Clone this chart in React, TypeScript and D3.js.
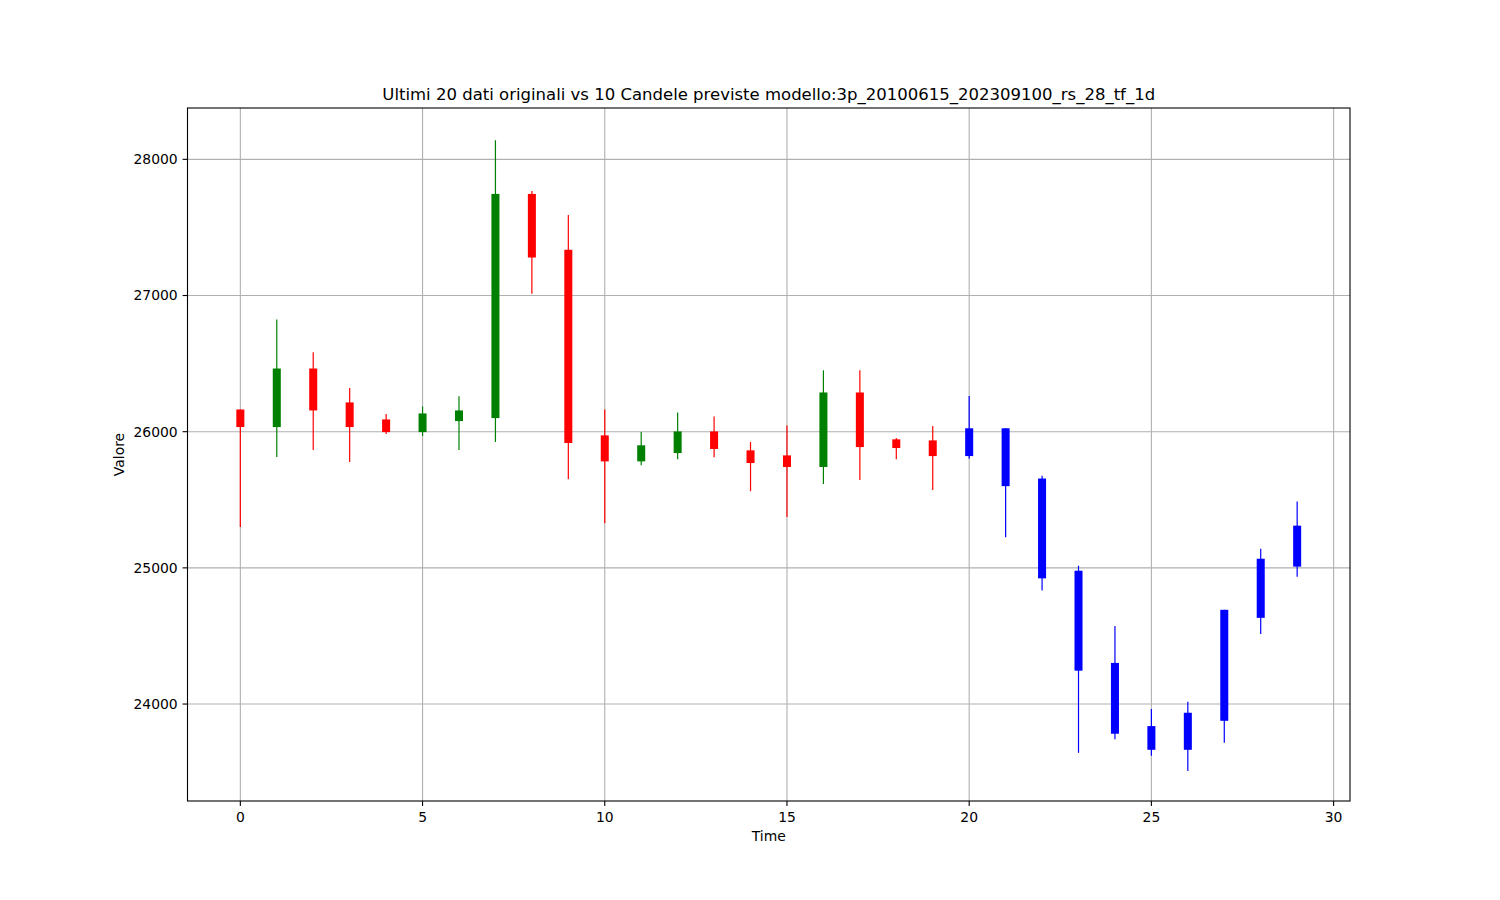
import React from "react";
import * as d3 from "d3";

const xs = d3.range(30);
const opens = [26163, 26034, 26464, 26215, 26090, 25997, 26078, 26100, 27746, 27336,
  25973, 25782, 25843, 26002, 25863, 25826, 25741, 26288, 25944, 25936,
  25821, 26025, 25656, 24979, 24302, 23838, 23664, 23877, 24633, 25009];
const closes = [26034, 26464, 26156, 26034, 25997, 26134, 26156, 27746, 27279, 25917,
  25782, 25900, 26002, 25873, 25770, 25741, 26288, 25887, 25880, 25821,
  26025, 25600, 24923, 24245, 23782, 23664, 23936, 24692, 25067, 25310];
const highs = [26163, 26823, 26583, 26320, 26129, 26185, 26261, 28141, 27768, 27592,
  26163, 25997, 26141, 26112, 25924, 26046, 26451, 26451, 25953, 26041,
  26263, 26025, 25676, 25016, 24574, 23963, 24017, 24692, 25141, 25487];
const lows = [25301, 25814, 25865, 25777, 25983, 25968, 25865, 25924, 27013, 25651,
  25328, 25753, 25797, 25812, 25563, 25374, 25616, 25645, 25797, 25572,
  25801, 25225, 24834, 23642, 23742, 23620, 23509, 23715, 24515, 24935];
const nOriginal = 20;
const xTicks = [0, 5, 10, 15, 20, 25, 30];
const yTicks = [24000, 25000, 26000, 27000, 28000];
const xDomain = [-1.45, 30.45];
const yDomain = [23288, 28377];

const W = 1500, H = 900;
const left = 187.5, right = 1350, top = 108, bottom = 801;
const font = "DejaVu Sans, sans-serif";

export default function App() {
  const x = d3.scaleLinear().domain(xDomain).range([left, right]);
  const y = d3.scaleLinear().domain(yDomain).range([bottom, top]);
  const bw = 0.22;
  const color = (i: number) =>
    i >= nOriginal ? "#0000ff" : closes[i] >= opens[i] ? "#008000" : "#ff0000";

  return (
    <svg width={W} height={H} style={{ position: "absolute", left: 0, top: 0, background: "#fff" }}>
      <rect x={0} y={0} width={W} height={H} fill="#fff" />
      {xTicks.map((t) => (
        <line key={"gx" + t} x1={x(t)} x2={x(t)} y1={top} y2={bottom} stroke="#b0b0b0" strokeWidth={1.1} />
      ))}
      {yTicks.map((t) => (
        <line key={"gy" + t} x1={left} x2={right} y1={y(t)} y2={y(t)} stroke="#b0b0b0" strokeWidth={1.1} />
      ))}
      {xs.map((i) => {
        const c = color(i);
        const bt = y(Math.max(opens[i], closes[i]));
        const bb = y(Math.min(opens[i], closes[i]));
        return (
          <g key={"c" + i}>
            <line x1={x(i)} x2={x(i)} y1={y(highs[i])} y2={y(lows[i])} stroke={c} strokeWidth={1.2} />
            <rect x={x(i - bw / 2)} y={bt} width={x(bw) - x(0)} height={Math.max(bb - bt, 1)} fill={c} />
          </g>
        );
      })}
      <rect x={left} y={top} width={right - left} height={bottom - top} fill="none" stroke="#000" strokeWidth={1.1} />
      {xTicks.map((t) => (
        <g key={"xt" + t}>
          <line x1={x(t)} x2={x(t)} y1={bottom} y2={bottom + 4.9} stroke="#000" strokeWidth={1.1} />
          <text x={x(t)} y={bottom + 21} textAnchor="middle" fontFamily={font} fontSize={13.9} fill="#000">{t}</text>
        </g>
      ))}
      {yTicks.map((t) => (
        <g key={"yt" + t}>
          <line x1={left - 4.9} x2={left} y1={y(t)} y2={y(t)} stroke="#000" strokeWidth={1.1} />
          <text x={left - 9.8} y={y(t)} dy="0.35em" textAnchor="end" fontFamily={font} fontSize={13.9} fill="#000">{t}</text>
        </g>
      ))}
      <text x={(left + right) / 2} y={841} textAnchor="middle" fontFamily={font} fontSize={13.9} fill="#000">Time</text>
      <text transform={`translate(124, ${(top + bottom) / 2}) rotate(-90)`} textAnchor="middle" fontFamily={font} fontSize={13.9} fill="#000">Valore</text>
      <text x={(left + right) / 2} y={100} textAnchor="middle" fontFamily={font} fontSize={16.5} fill="#000">
        Ultimi 20 dati originali vs 10 Candele previste modello:3p_20100615_202309100_rs_28_tf_1d
      </text>
    </svg>
  );
}
